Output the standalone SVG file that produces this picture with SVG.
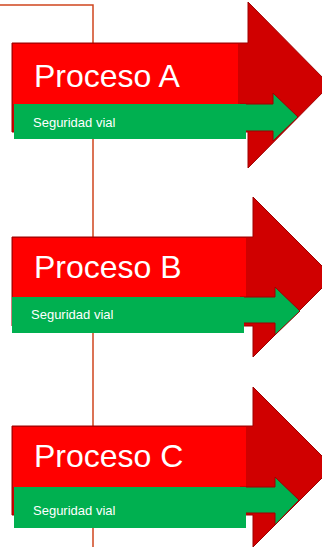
<svg xmlns="http://www.w3.org/2000/svg" width="322" height="547" viewBox="0 0 322 547">
<style>
.big{fill:#D00000;stroke:#9E0000;stroke-width:1}
.red{fill:#FF0000}
.grn{fill:#00B050}
.garrow{fill:#00B050;stroke:#9E0000;stroke-width:1}
.t1{font-family:"Liberation Sans",Arial,sans-serif;font-size:32px;fill:#FFFFFF}
.t2{font-family:"Liberation Sans",Arial,sans-serif;font-size:13px;fill:#FFFFFF}
</style>
<rect width="322" height="547" fill="#FFFFFF"/>
<g id="connectors">
<polyline points="0,5 93,5 93,547" fill="none" stroke="#D0461E" stroke-width="1.5"/>
</g>
<g id="procesoA">
<path class="big" d="M12,43 H248 V2 L330,85 L248,168 V132 H12 Z"/>
<rect class="red" x="13" y="44" width="225" height="60"/>
<path class="garrow" d="M240,104 H273 V93 L298,117 L273,141 V131 H240 Z"/>
<rect class="grn" x="14" y="104" width="232" height="35"/>
<text class="t1" x="34" y="87">Proceso A</text>
<text class="t2" x="33" y="127">Seguridad vial</text>
</g>
<g id="procesoB">
<path class="big" d="M12,237 H253 V197 L333,277 L253,357 V326 H12 Z"/>
<rect class="red" x="13" y="238" width="233" height="59"/>
<path class="garrow" d="M240,297 H275 V287 L300,311 L275,335 V323 H240 Z"/>
<rect class="grn" x="12" y="297" width="232" height="36"/>
<text class="t1" x="34" y="278">Proceso B</text>
<text class="t2" x="31" y="319">Seguridad vial</text>
</g>
<g id="procesoC">
<path class="big" d="M12,426 H253 V387 L333,467 L253,547 V515 H12 Z"/>
<rect class="red" x="13" y="427" width="233" height="60"/>
<path class="garrow" d="M240,487 H275 V477 L299,500 L275,525 V513 H240 Z"/>
<rect class="grn" x="14" y="487" width="232" height="41"/>
<text class="t1" x="34" y="467">Proceso C</text>
<text class="t2" x="33" y="515">Seguridad vial</text>
</g>
</svg>
